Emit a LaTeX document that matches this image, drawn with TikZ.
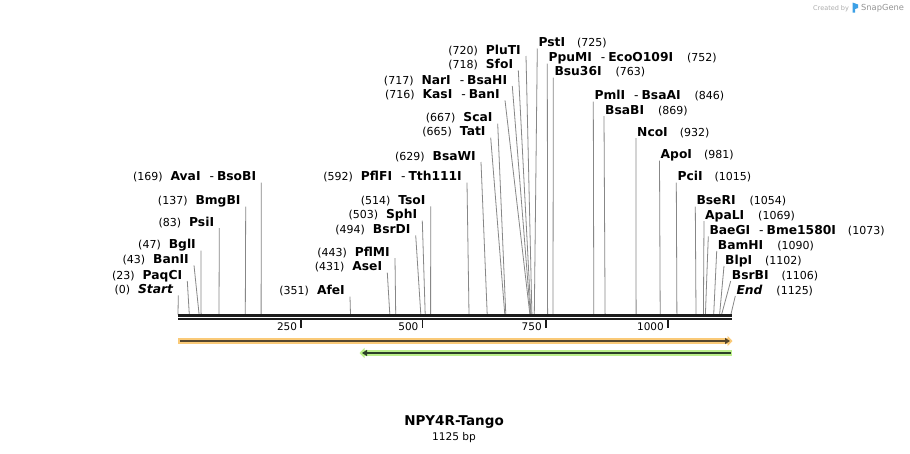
\documentclass[tikz,border=0pt]{standalone}
\usepackage{fontspec}
\setmainfont{DejaVu Sans}
\usetikzlibrary{arrows.meta}

\definecolor{cutline}{RGB}{135,135,135}
\definecolor{backbone}{RGB}{28,28,28}
\definecolor{orfband}{RGB}{250,202,120}
\definecolor{orfline}{RGB}{85,70,45}
\definecolor{revband}{RGB}{188,240,140}
\definecolor{revline}{RGB}{45,65,40}
\definecolor{logoblue}{RGB}{60,160,230}

\newcommand{\pnum}[1]{{\fontsize{11}{12}\selectfont(#1)}}
\newcommand{\enz}[1]{{\fontsize{12.3}{13}\selectfont\bfseries #1}}
\newcommand{\enzsep}{\hspace{9pt}{\mdseries-}\hspace{3pt}}

\begin{document}
\begin{tikzpicture}[x=1pt,y=-1pt,
                    lft/.style={anchor=base east,inner xsep=5pt,inner ysep=0pt},
                    rgt/.style={anchor=base west,inner xsep=1pt,inner ysep=0pt},
                    cut/.style={draw=cutline,line width=0.8pt},
                    tick/.style={draw=backbone,line width=1.6pt},
                    band/.style={line width=6pt},
                    fline/.style={line width=2pt}]
  \path[fill=white,use as bounding box] (0,0) rectangle (910,453);

  % cut sites on the sequence
  \coordinate (sStart)  at (178.0,314.5);
  \coordinate (sPaqCI)  at (189.3,314.5);
  \coordinate (sBanII)  at (199.1,314.5);
  \coordinate (sBglI)   at (201.1,314.5);
  \coordinate (sPsiI)   at (219.0,314.5);
  \coordinate (sBmgBI)  at (245.3,314.5);
  \coordinate (sAvaI)   at (261.1,314.5);
  \coordinate (sAfeI)   at (350.5,314.5);
  \coordinate (sAseI)   at (389.8,314.5);
  \coordinate (sPflMI)  at (395.7,314.5);
  \coordinate (sBsrDI)  at (420.8,314.5);
  \coordinate (sSphI)   at (425.2,314.5);
  \coordinate (sTsoI)   at (430.6,314.5);
  \coordinate (sPflFI)  at (469.0,314.5);
  \coordinate (sBsaWI)  at (487.2,314.5);
  \coordinate (sTatI)   at (504.8,314.5);
  \coordinate (sScaI)   at (505.8,314.5);
  \coordinate (sKasI)   at (529.9,314.5);
  \coordinate (sNarI)   at (530.4,314.5);
  \coordinate (sSfoI)   at (530.9,314.5);
  \coordinate (sPluTI)  at (531.9,314.5);
  \coordinate (sPstI)   at (534.3,314.5);
  \coordinate (sPpuMI)  at (547.6,314.5);
  \coordinate (sBsu36I) at (553.0,314.5);
  \coordinate (sPmlI)   at (593.8,314.5);
  \coordinate (sBsaBI)  at (605.1,314.5);
  \coordinate (sNcoI)   at (636.1,314.5);
  \coordinate (sApoI)   at (660.2,314.5);
  \coordinate (sPciI)   at (676.9,314.5);
  \coordinate (sBseRI)  at (696.0,314.5);
  \coordinate (sApaLI)  at (703.4,314.5);
  \coordinate (sBaeGI)  at (705.4,314.5);
  \coordinate (sBamHI)  at (713.7,314.5);
  \coordinate (sBlpI)   at (719.6,314.5);
  \coordinate (sBsrBI)  at (721.6,314.5);
  \coordinate (sEnd)    at (730.9,314.5);

  % labels left of their site
  \node[lft] (Start) at (178.3,293.3) {\pnum{0}\hspace{8pt}\enz{\itshape Start}};
  \node[lft] (PaqCI) at (187.3,279.0) {\pnum{23}\hspace{8pt}\enz{PaqCI}};
  \node[lft] (BanII) at (194.0,263.3) {\pnum{43}\hspace{8pt}\enz{BanII}};
  \node[lft] (BglI)  at (201.0,248.7) {\pnum{47}\hspace{8pt}\enz{BglI}};
  \node[lft] (PsiI)  at (219.3,226.0) {\pnum{83}\hspace{8pt}\enz{PsiI}};
  \node[lft] (BmgBI) at (245.7,204.7) {\pnum{137}\hspace{8pt}\enz{BmgBI}};
  \node[lft] (AvaI)  at (261.3,180.7) {\pnum{169}\hspace{8pt}\enz{AvaI\enzsep BsoBI}};
  \node[lft] (AfeI)  at (350.0,294.7) {\pnum{351}\hspace{8pt}\enz{AfeI}};
  \node[lft] (AseI)  at (387.3,270.7) {\pnum{431}\hspace{8pt}\enz{AseI}};
  \node[lft] (PflMI) at (395.0,256.0) {\pnum{443}\hspace{8pt}\enz{PflMI}};
  \node[lft] (BsrDI) at (415.7,233.3) {\pnum{494}\hspace{8pt}\enz{BsrDI}};
  \node[lft] (SphI)  at (422.3,218.7) {\pnum{503}\hspace{8pt}\enz{SphI}};
  \node[lft] (TsoI)  at (430.7,204.3) {\pnum{514}\hspace{8pt}\enz{TsoI}};
  \node[lft] (PflFI) at (467.0,180.7) {\pnum{592}\hspace{8pt}\enz{PflFI\enzsep Tth111I}};
  \node[lft] (BsaWI) at (481.0,160.0) {\pnum{629}\hspace{8pt}\enz{BsaWI}};
  \node[lft] (TatI)  at (490.7,135.7) {\pnum{665}\hspace{8pt}\enz{TatI}};
  \node[lft] (ScaI)  at (497.7,121.7) {\pnum{667}\hspace{8pt}\enz{ScaI}};
  \node[lft] (KasI)  at (505.0,98.3)  {\pnum{716}\hspace{8pt}\enz{KasI\enzsep BanI}};
  \node[lft] (NarI)  at (512.3,84.0)  {\pnum{717}\hspace{8pt}\enz{NarI\enzsep BsaHI}};
  \node[lft] (SfoI)  at (518.3,68.3)  {\pnum{718}\hspace{8pt}\enz{SfoI}};
  \node[lft] (PluTI) at (526.0,54.0)  {\pnum{720}\hspace{8pt}\enz{PluTI}};

  % labels right of their site
  \node[rgt] (PstI)   at (537.3,46.5)  {\enz{PstI}\hspace{12pt}\pnum{725}};
  \node[rgt] (PpuMI)  at (547.3,61.7)  {\enz{PpuMI\enzsep EcoO109I}\hspace{14pt}\pnum{752}};
  \node[rgt] (Bsu36I) at (553.3,75.7)  {\enz{Bsu36I}\hspace{14pt}\pnum{763}};
  \node[rgt] (PmlI)   at (593.3,99.7)  {\enz{PmlI\enzsep BsaAI}\hspace{14pt}\pnum{846}};
  \node[rgt] (BsaBI)  at (604.0,114.0) {\enz{BsaBI}\hspace{14pt}\pnum{869}};
  \node[rgt] (NcoI)   at (636.0,136.0) {\enz{NcoI}\hspace{12pt}\pnum{932}};
  \node[rgt] (ApoI)   at (659.5,158.5) {\enz{ApoI}\hspace{12pt}\pnum{981}};
  \node[rgt] (PciI)   at (676.3,180.7) {\enz{PciI}\hspace{12pt}\pnum{1015}};
  \node[rgt] (BseRI)  at (695.3,204.7) {\enz{BseRI}\hspace{14pt}\pnum{1054}};
  \node[rgt] (ApaLI)  at (704.0,219.0) {\enz{ApaLI}\hspace{14pt}\pnum{1069}};
  \node[rgt] (BaeGI)  at (708.3,234.3) {\enz{BaeGI\enzsep Bme1580I}\hspace{12pt}\pnum{1073}};
  \node[rgt] (BamHI)  at (716.7,249.0) {\enz{BamHI}\hspace{14pt}\pnum{1090}};
  \node[rgt] (BlpI)   at (724.0,264.0) {\enz{BlpI}\hspace{13pt}\pnum{1102}};
  \node[rgt] (BsrBI)  at (730.7,279.0) {\enz{BsrBI}\hspace{13pt}\pnum{1106}};
  \node[rgt] (End)    at (735.3,294.0) {\enz{\itshape End}\hspace{14pt}\pnum{1125}};

  \foreach \n in {Start,PaqCI,BanII,BglI,PsiI,BmgBI,AvaI,AfeI,AseI,PflMI,BsrDI,
                  SphI,TsoI,PflFI,BsaWI,TatI,ScaI,KasI,NarI,SfoI,PluTI}
    \draw[cut] ([yshift=-2pt]\n.base east) -- (s\n);
  \foreach \n in {PstI,PpuMI,Bsu36I,PmlI,BsaBI,NcoI,ApoI,PciI,BseRI,ApaLI,
                  BaeGI,BamHI,BlpI,BsrBI,End}
    \draw[cut] ([yshift=-2pt]\n.base west) -- (s\n);

  % sequence and ruler
  \draw[draw=backbone,line width=2.7pt] (178,315.7) -- (731.7,315.7);
  \draw[draw=backbone,line width=2pt]   (178,319.3) -- (731.7,319.3);
  \draw[tick] (301,320) -- (301,327.5);
  \draw[tick] (422.5,320) -- (422.5,327.5);
  \draw[tick] (545.7,320) -- (545.7,327.5);
  \draw[tick] (667.7,320) -- (667.7,327.5);
  \node[anchor=base east,inner sep=0pt,font=\fontsize{10.5}{12}\selectfont] (t250)  at (297.3,330.5) {250};
  \node[anchor=base east,inner sep=0pt,font=\fontsize{10.5}{12}\selectfont] (t500)  at (418.6,330.5) {500};
  \node[anchor=base east,inner sep=0pt,font=\fontsize{10.5}{12}\selectfont] (t750)  at (541.9,330.5) {750};
  \node[anchor=base east,inner sep=0pt,font=\fontsize{10.5}{12}\selectfont] (t1000) at (664.0,330.5) {1000};

  % features
  \coordinate (fwdL) at (178,341);
  \coordinate (fwdR) at (732.5,341);
  \coordinate (revL) at (359.5,353);
  \coordinate (revR) at (731.5,353);
  \draw[band,draw=orfband,-{Triangle[length=5pt,width=10pt]}] (fwdL) -- (fwdR);
  \draw[fline,draw=orfline,shorten <=2pt,shorten >=2.5pt,-{Triangle[length=5pt,width=6pt]}] (fwdL) -- (fwdR);
  \draw[band,draw=revband,-{Triangle[length=5pt,width=10pt]}] (revR) -- (revL);
  \draw[fline,draw=revline,shorten <=1pt,shorten >=2.5pt,-{Triangle[length=5pt,width=6pt]}] (revR) -- (revL);

  \node[font=\fontsize{13.5}{15}\selectfont\bfseries] (title) at (454,422) {NPY4R-Tango};
  \node[font=\fontsize{10.6}{12}\selectfont] (size) at (454,437.5) {1125 bp};

  \node[anchor=base west,inner sep=0pt,text=black!32,font=\fontsize{6.5}{8}\selectfont] (made) at (813,10) {Created by};
  \fill[logoblue] (852.5,2.5) -- (858,4.5) -- (858,8) -- (855.2,9) -- (855.2,12.5) -- (852.5,12.5) -- cycle;
  \node[anchor=base west,inner sep=0pt,text=black!42,font=\fontsize{8.3}{10}\selectfont] (snap) at (861,10.5) {SnapGene};
\end{tikzpicture}
\end{document}
